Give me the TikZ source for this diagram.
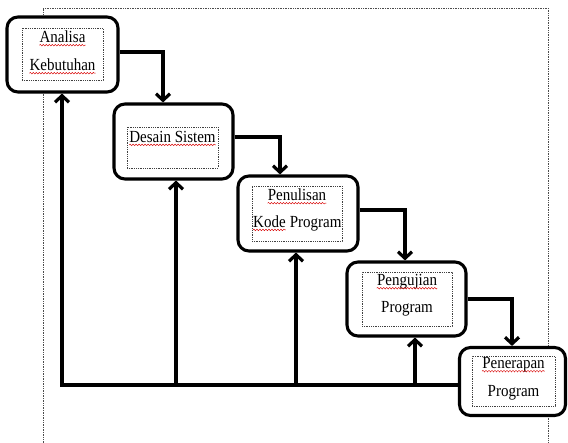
\documentclass[tikz,border=0pt]{standalone}
\usepackage{fontspec}
\usepackage{graphicx}
\setmainfont{Liberation Serif}
\usetikzlibrary{arrows.meta,decorations.pathmorphing,shadows}
\newcommand{\stt}[1]{\scalebox{1}[1.13]{#1}}
\begin{document}
\begin{tikzpicture}[x=1pt,y=-1pt,
  box/.style={draw,line width=3.1pt,rounded corners=11pt,fill=white,inner sep=0pt,
    drop shadow={shadow xshift=1pt,shadow yshift=-1.2pt,opacity=0.35,fill=black!60}},
  inbox/.style={draw=black!75,densely dotted,line width=0.8pt,inner sep=0pt},
  txt/.style={inner sep=0pt,font=\fontsize{15}{18}\selectfont},
  conn/.style={line width=3.2pt},
  arr/.style={line width=3.2pt,-{Straight Barb[length=6.5pt,width=14pt]}},
  wavy/.style={draw=red!85!black,line width=0.45pt,decorate,decoration={snake,amplitude=0.8pt,segment length=3pt}},
  frame/.style={draw=black!70,densely dotted,line width=0.7pt}]
\useasboundingbox (0,0) rectangle (568,443);
% outer dotted frame
\draw[frame] (43,443) -- (43,8) -- (548,8) -- (548,443);
% boxes
\node[box,minimum width=111pt,minimum height=75pt] (b1) at (62.5,54.5) {};
\node[box,minimum width=119pt,minimum height=75pt] (b2) at (173.5,141.5) {};
\node[box,minimum width=120pt,minimum height=75pt] (b3) at (298,213.5) {};
\node[box,minimum width=119pt,minimum height=74pt] (b4) at (406.5,299) {};
\node[box,minimum width=106pt,minimum height=68pt] (b5) at (512.5,381.5) {};
% inner dotted boxes
\node[inbox,minimum width=81pt,minimum height=52pt] (i1) at (62.5,54) {};
\node[inbox,minimum width=91pt,minimum height=41pt] (i2) at (172.5,147.5) {};
\node[inbox,minimum width=90pt,minimum height=55pt] (i3) at (297,213.5) {};
\node[inbox,minimum width=90pt,minimum height=54pt] (i4) at (407,299) {};
\node[inbox,minimum width=83pt,minimum height=50pt] (i5) at (513.5,381) {};
% texts
\node[txt] (t1a) at (62.5,37) {\stt{Analisa}};
\node[txt] (t1b) at (62.5,65) {\stt{Kebutuhan}};
\node[txt] (t2) at (172.5,137) {\stt{Desain Sistem}};
\node[txt] (t3a) at (297,195) {\stt{Penulisan}};
\node[txt,anchor=base west] (t3b) at (253,227.5) {\stt{Kode}};
\node[txt,anchor=base west] (t3c) at ([xshift=3.7pt]t3b.base east) {\stt{Program}};
\node[txt] (t4a) at (407,282) {\stt{Pengujian}};
\node[txt] (t4b) at (407,309) {\stt{Program}};
\node[txt] (t5a) at (513.5,365) {\stt{Penerapan}};
\node[txt] (t5b) at (513.5,393) {\stt{Program}};
% spell-check underlines
\foreach \t in {t1a,t1b,t2,t3a,t3b,t4a,t5a}
  \draw[wavy] ([yshift=-2.4pt]\t.base west) -- ([yshift=-2.4pt]\t.base east);
% forward connectors
\draw[arr] (b1.east |- 0,52) -| ([xshift=-10.5pt]b2.north);
\draw[arr] (b2.east |- 0,137) -| ([xshift=-18pt]b3.north);
\draw[arr] (b3.east |- 0,210) -| ([xshift=-1.5pt]b4.north);
\draw[arr] (b4.east) -| ([xshift=-0.5pt]b5.north);
% feedback
\coordinate (f1) at (62,385);
\coordinate (f2) at (176,385);
\coordinate (f3) at (296,385);
\coordinate (f4) at (415,385);
\draw[conn] (b5.west |- f1) -- ([xshift=-1.6pt]f1);
\draw[arr] ([yshift=-1.6pt]f1) -- (f1 |- b1.south);
\draw[arr] ([yshift=-1.6pt]f2) -- (f2 |- b2.south);
\draw[arr] ([yshift=-1.6pt]f3) -- (f3 |- b3.south);
\draw[arr] ([yshift=-1.6pt]f4) -- (f4 |- b4.south);
\end{tikzpicture}
\end{document}
